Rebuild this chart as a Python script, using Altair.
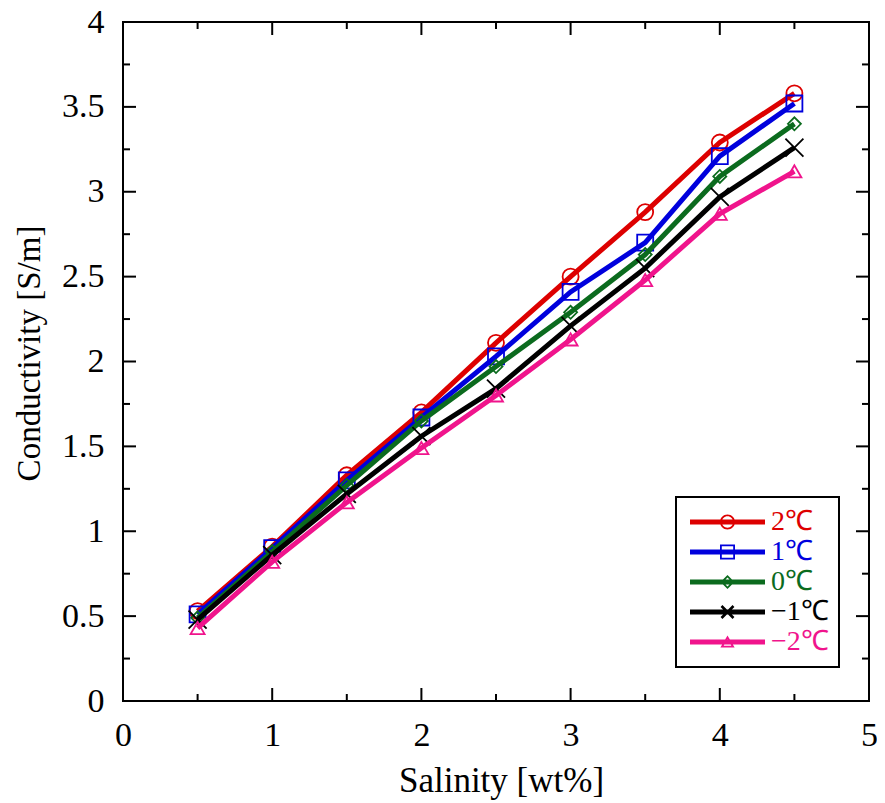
import altair as alt
import pandas as pd

# ---- data ----
salinity = [0.5, 1.0, 1.5, 2.0, 2.5, 3.0, 3.5, 4.0, 4.5]
cond_p2 = [0.53, 0.91, 1.33, 1.70, 2.11, 2.50, 2.88, 3.29, 3.58]
cond_p1 = [0.51, 0.90, 1.30, 1.67, 2.03, 2.41, 2.70, 3.21, 3.52]
cond_0 = [0.49, 0.88, 1.27, 1.65, 1.97, 2.29, 2.63, 3.09, 3.40]
cond_m1 = [0.48, 0.86, 1.22, 1.56, 1.84, 2.21, 2.55, 2.97, 3.26]
cond_m2 = [0.43, 0.82, 1.17, 1.49, 1.80, 2.13, 2.48, 2.87, 3.12]

series_labels = ["2℃", "1℃", "0℃", "−1℃", "−2℃"]
series_values = [cond_p2, cond_p1, cond_0, cond_m1, cond_m2]
series_colors = ["#dd0000", "#0000dd", "#0b6b1e", "#000000", "#f0148c"]

x_major = [0, 1, 2, 3, 4, 5]
x_minor = [0.5, 1.5, 2.5, 3.5, 4.5]
y_major = [0, 0.5, 1, 1.5, 2, 2.5, 3, 3.5, 4]
y_minor = [0.25, 0.75, 1.25, 1.75, 2.25, 2.75, 3.25, 3.75]

# ---- styles ----
W, H = 746, 679
FONT = "serif"
point_shapes = ["circle", "square", "diamond", "M-1,-1L1,1M-1,1L1,-1", "triangle-up"]
point_sizes = [256, 256, 169, 324, 196]

LINE = "M-1,-0.066H1V0.066H-1Z"
legend_paths = [
    LINE + "M0.2,0A0.2,0.2 0 1,1 -0.2,0A0.2,0.2 0 1,1 0.2,0Z"
         + "M0.152,0A0.152,0.152 0 1,0 -0.152,0A0.152,0.152 0 1,0 0.152,0Z",
    LINE + "M-0.2,-0.2H0.2V0.2H-0.2Z" + "M-0.152,-0.152V0.152H0.152V-0.152Z",
    LINE + "M0,-0.187L0.187,0L0,0.187L-0.187,0Z" + "M0,-0.119L-0.119,0L0,0.119L0.119,0Z",
    LINE + "M0.1355,0.1845L-0.1845,-0.1355L-0.1355,-0.1845L0.1845,0.1355Z"
         + "M0.1845,-0.1355L-0.1355,0.1845L-0.1845,0.1355L0.1355,-0.1845Z",
    LINE + "M0,-0.176L0.19,0.149L-0.19,0.149Z" + "M0,-0.077L-0.103,0.099L0.103,0.099Z",
]

rows = []
for lab, vals in zip(series_labels, series_values):
    for s, c in zip(salinity, vals):
        rows.append({"salinity": s, "conductivity": c, "series": lab})
df = pd.DataFrame(rows)

xscale = alt.Scale(domain=[0, 5], nice=False, zero=False)
yscale = alt.Scale(domain=[0, 4], nice=False, zero=False)

xaxis = alt.Axis(values=x_major, format="d", ticks=False, tickSize=0, domain=False, grid=False,
                 labelFont=FONT, labelFontSize=34, labelColor="black", labelPadding=17,
                 labelFlush=False, labelOverlap=False,
                 title="Salinity [wt%]", titleFont=FONT, titleFontSize=35, titleFontWeight="normal",
                 titleColor="black", titleX=378, titleY=90, titleAlign="center",
                 titleBaseline="alphabetic")
yaxis = alt.Axis(values=y_major, format="~g", ticks=False, tickSize=0, domain=False, grid=False,
                 labelFont=FONT, labelFontSize=34, labelColor="black", labelPadding=19,
                 labelFlush=False, labelOverlap=False,
                 title="Conductivity [S/m]", titleFont=FONT, titleFontSize=33, titleFontWeight="normal",
                 titleColor="black", titleX=-84, titleY=331, titleAlign="center",
                 titleBaseline="alphabetic", titleAngle=270)

X = alt.X("salinity:Q", scale=xscale, axis=xaxis)
Y = alt.Y("conductivity:Q", scale=yscale, axis=yaxis)

base = alt.Chart(df)
layers = []
for lab, col, shp, sz in zip(series_labels, series_colors, point_shapes, point_sizes):
    sub = base.transform_filter(alt.datum.series == lab)
    layers.append(sub.mark_line(color=col, strokeWidth=5).encode(x=X, y=Y))
    layers.append(sub.mark_point(color=col, shape=shp, size=sz, filled=False,
                                 strokeWidth=1.8, opacity=1).encode(x=X, y=Y))

leg = alt.Legend(title=None, orient="none", legendX=553, legendY=475, padding=10,
                 strokeColor="black", fillColor="white",
                 symbolSize=5625, symbolOffset=4, symbolStrokeWidth=0, symbolOpacity=1,
                 clipHeight=30, rowPadding=0, labelOffset=6,
                 labelFont=FONT, labelFontSize=28, labelBaseline="middle",
                 labelColor={"expr": "scale('color', datum.value)"})
legend_layer = base.mark_point(filled=True, opacity=0).encode(
    x=X, y=Y,
    color=alt.Color("series:N", scale=alt.Scale(domain=series_labels, range=series_colors), legend=leg),
    shape=alt.Shape("series:N", scale=alt.Scale(domain=series_labels, range=legend_paths), legend=leg),
)
layers.append(legend_layer)

# inward ticks on all four sides
xmaj = pd.DataFrame({"salinity": x_major})
xmin = pd.DataFrame({"salinity": x_minor})
ymaj = pd.DataFrame({"conductivity": y_major})
ymin = pd.DataFrame({"conductivity": y_minor})
for d, L in [(xmaj, 13), (xmin, 7)]:
    c = alt.Chart(d).mark_rule(color="black", strokeWidth=2)
    layers.append(c.encode(x=X, y=alt.value(H), y2=alt.value(H - L)))
    layers.append(c.encode(x=X, y=alt.value(0), y2=alt.value(L)))
for d, L in [(ymaj, 13), (ymin, 7)]:
    c = alt.Chart(d).mark_rule(color="black", strokeWidth=2)
    layers.append(c.encode(y=Y, x=alt.value(0), x2=alt.value(L)))
    layers.append(c.encode(y=Y, x=alt.value(W), x2=alt.value(W - L)))

chart = alt.layer(*layers).properties(
    width=W, height=H,
    autosize=alt.AutoSizeParams(type="none"),
    padding={"left": 115, "top": 14, "right": 8, "bottom": 100},
).configure_view(stroke="black", strokeWidth=2).configure_legend(strokeWidth=2)

chart.save("out.html", embed_options={"renderer": "svg", "actions": False})
